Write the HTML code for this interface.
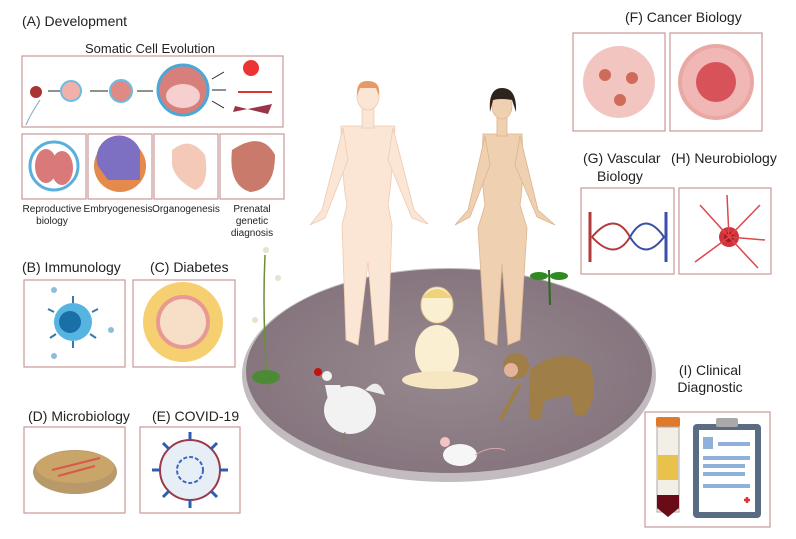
<!DOCTYPE html>
<html><head><meta charset="utf-8"><style>
html,body{margin:0;padding:0;background:#fff;}
svg{display:block;font-family:"Liberation Sans",sans-serif;}
</style></head><body>
<svg width="796" height="539" viewBox="0 0 796 539" xmlns="http://www.w3.org/2000/svg">
<defs>
<radialGradient id="dish" cx="50%" cy="50%" r="50%">
<stop offset="0" stop-color="#978990"/><stop offset="1" stop-color="#86757e"/></radialGradient>
</defs>
<g fill="none" stroke="#c99a9a" stroke-width="1.2">
<rect x="22" y="56" width="261" height="71"/>
<rect x="22" y="134" width="64" height="65"/>
<rect x="88" y="134" width="64" height="65"/>
<rect x="154" y="134" width="64" height="65"/>
<rect x="220" y="134" width="64" height="65"/>
<rect x="24" y="280" width="101" height="87"/>
<rect x="133" y="280" width="102" height="87"/>
<rect x="24" y="427" width="101" height="86"/>
<rect x="140" y="427" width="100" height="86"/>
<rect x="573" y="33" width="92" height="98"/>
<rect x="670" y="33" width="92" height="98"/>
<rect x="581" y="188" width="93" height="86"/>
<rect x="679" y="188" width="92" height="86"/>
<rect x="645" y="412" width="125" height="115"/>
</g>
<g font-size="14" fill="#222">
<text x="22" y="26">(A) Development</text>
<text x="22" y="272">(B) Immunology</text>
<text x="150" y="272">(C) Diabetes</text>
<text x="28" y="421">(D) Microbiology</text>
<text x="152" y="421">(E) COVID-19</text>
<text x="625" y="22">(F) Cancer Biology</text>
<text x="583" y="163">(G) Vascular</text>
<text x="597" y="181">Biology</text>
<text x="671" y="163">(H) Neurobiology</text>
<text x="710" y="375" text-anchor="middle">(I) Clinical</text>
<text x="710" y="392" text-anchor="middle">Diagnostic</text>
</g>
<text x="150" y="53" font-size="13" text-anchor="middle" fill="#222">Somatic Cell Evolution</text>
<g font-size="10" fill="#222" text-anchor="middle">
<text x="52" y="212">Reproductive</text><text x="52" y="224">biology</text>
<text x="118" y="212">Embryogenesis</text>
<text x="186" y="212">Organogenesis</text>
<text x="252" y="212">Prenatal</text><text x="252" y="224">genetic</text><text x="252" y="236">diagnosis</text>
</g>
<!-- A strip -->
<circle cx="36" cy="92" r="6" fill="#a33"/>
<path d="M40 100 Q30 115 26 125" stroke="#7ab" fill="none"/>
<circle cx="71" cy="91" r="10" fill="#f3b0aa" stroke="#6bbde0" stroke-width="2"/>
<circle cx="121" cy="91" r="11" fill="#e08a86" stroke="#6bbde0" stroke-width="2"/>
<circle cx="183" cy="90" r="25" fill="#d77f7a" stroke="#4aa8d8" stroke-width="3"/>
<ellipse cx="183" cy="96" rx="17" ry="12" fill="#f6d0cf"/>
<g stroke="#222" stroke-width="1"><line x1="48" y1="91" x2="60" y2="91"/><line x1="90" y1="91" x2="108" y2="91"/><line x1="137" y1="91" x2="153" y2="91"/><line x1="212" y1="79" x2="224" y2="72"/><line x1="212" y1="90" x2="226" y2="90"/><line x1="212" y1="101" x2="224" y2="108"/></g>
<circle cx="251" cy="68" r="8" fill="#e33"/>
<line x1="238" y1="92" x2="272" y2="92" stroke="#d33" stroke-width="2"/>
<path d="M233 112 L272 104 L268 114 L235 106Z" fill="#9a3448"/>
<!-- small A boxes -->
<circle cx="54" cy="166" r="24" fill="#fff" stroke="#5ab0dd" stroke-width="3"/>
<ellipse cx="46" cy="166" rx="11" ry="17" fill="#d9797a"/><ellipse cx="62" cy="168" rx="11" ry="17" fill="#d9797a"/>
<circle cx="120" cy="166" r="26" fill="#e38a4c"/><path d="M98 166 A22 22 0 0 1 140 150 L140 180 L108 180Z" fill="#7d6fc2"/>
<path d="M172 150 Q190 135 205 155 Q210 185 195 190 Q175 180 172 165Z" fill="#f4c9b8"/>
<path d="M232 150 Q262 130 275 155 Q275 190 250 192 Q228 185 232 150Z" fill="#c97a6b"/>
<!-- B -->
<circle cx="73" cy="322" r="19" fill="#55b4e0"/><circle cx="70" cy="322" r="11" fill="#1a6fa6"/>
<g stroke="#3b78a8" stroke-width="2"><line x1="73" y1="303" x2="73" y2="296"/><line x1="73" y1="341" x2="73" y2="348"/><line x1="54" y1="312" x2="48" y2="309"/><line x1="92" y1="312" x2="98" y2="309"/><line x1="56" y1="334" x2="50" y2="338"/><line x1="90" y1="334" x2="96" y2="338"/></g>
<g fill="#8fbcd8"><circle cx="54" cy="290" r="3"/><circle cx="111" cy="330" r="3"/><circle cx="54" cy="356" r="3"/></g>
<!-- C -->
<circle cx="183" cy="322" r="40" fill="#f5cf70"/><circle cx="183" cy="322" r="27" fill="#e79a92"/><circle cx="183" cy="322" r="23" fill="#f6dfc6"/>
<!-- D -->
<ellipse cx="75" cy="472" rx="42" ry="22" fill="#b89a6a"/><ellipse cx="75" cy="467" rx="39" ry="16" fill="#c9a56a"/>
<path d="M52 470 L100 458 M58 476 L95 466" stroke="#d8584a" stroke-width="2"/>
<!-- E -->
<circle cx="190" cy="470" r="30" fill="#e8eef6" stroke="#9a3a4a" stroke-width="2"/>
<g stroke="#2f5cb0" stroke-width="3"><line x1="190" y1="440" x2="190" y2="432"/><line x1="190" y1="500" x2="190" y2="508"/><line x1="160" y1="470" x2="152" y2="470"/><line x1="220" y1="470" x2="228" y2="470"/><line x1="169" y1="449" x2="163" y2="443"/><line x1="211" y1="449" x2="217" y2="443"/><line x1="169" y1="491" x2="163" y2="497"/><line x1="211" y1="491" x2="217" y2="497"/></g>
<circle cx="190" cy="470" r="13" fill="none" stroke="#3a6ac0" stroke-width="2" stroke-dasharray="4 2"/>
<!-- F -->
<circle cx="619" cy="82" r="36" fill="#f2c5c0"/><circle cx="605" cy="75" r="6" fill="#d06a5a"/><circle cx="632" cy="78" r="6" fill="#d06a5a"/><circle cx="620" cy="100" r="6" fill="#d06a5a"/>
<circle cx="716" cy="82" r="38" fill="#e9a8a4"/><circle cx="716" cy="82" r="34" fill="#f0b7b4"/><circle cx="716" cy="82" r="20" fill="#d8525a"/>
<!-- G -->
<path d="M590 212 L590 262" stroke="#b23a3a" stroke-width="3" fill="none"/>
<path d="M592 237 Q615 210 630 237 Q615 262 592 237" fill="none" stroke="#b23a3a" stroke-width="2"/>
<path d="M630 237 Q645 210 664 237 Q645 262 630 237" fill="none" stroke="#3a4fa8" stroke-width="2"/>
<path d="M666 212 L666 262" stroke="#3a4fa8" stroke-width="3"/>
<!-- H -->
<circle cx="729" cy="237" r="10" fill="#d0343a"/><circle cx="729" cy="237" r="5" fill="#a51a24"/><g stroke="#e0454a" stroke-width="1.5" fill="none"><path d="M729 237 L700 205 M729 237 L760 205 M729 237 L695 262 M729 237 L758 268 M729 237 L727 195 M729 237 L765 240"/></g>
<!-- I -->
<rect x="656" y="417" width="24" height="10" rx="2" fill="#e07a2a"/><rect x="657" y="427" width="22" height="85" fill="#f4efe6" stroke="#aaa"/><rect x="658" y="455" width="20" height="25" fill="#e8c24a"/><path d="M657 495 L679 495 L679 508 L668 517 L657 508Z" fill="#6a0b18"/>
<rect x="693" y="424" width="68" height="94" rx="4" fill="#5a6b84"/><rect x="699" y="430" width="56" height="82" fill="#fff"/><rect x="716" y="418" width="22" height="9" rx="2" fill="#a9a9a9"/>
<g stroke="#8fb0d8" stroke-width="4"><line x1="718" y1="444" x2="750" y2="444"/><line x1="703" y1="458" x2="750" y2="458"/><line x1="703" y1="466" x2="745" y2="466"/><line x1="703" y1="474" x2="745" y2="474"/><line x1="703" y1="486" x2="750" y2="486"/></g>
<rect x="703" y="437" width="10" height="12" fill="#8fb0d8"/>
<path d="M744 500 h6 M747 497 v6" stroke="#d33" stroke-width="2.5"/>
<!-- dish -->
<ellipse cx="449" cy="375" rx="207" ry="107" fill="#c2bcc0"/>
<ellipse cx="449" cy="371" rx="203" ry="102" fill="url(#dish)"/>
<!-- plant -->
<path d="M265 255 Q262 320 268 390" stroke="#6a8e3a" stroke-width="1.5" fill="none"/>
<g fill="#e8e2c8"><circle cx="266" cy="250" r="3"/><circle cx="278" cy="278" r="3"/><circle cx="255" cy="320" r="3"/></g>
<ellipse cx="266" cy="377" rx="14" ry="7" fill="#4d8a36"/>
<!-- humans -->
<g fill="#fbe6d5" stroke="#f0c9ae" stroke-width="0.8">
<path d="M341 126 L395 126 Q392 180 388 205 L392 225 L388 340 L375 345 L368 262 L358 345 L346 340 L342 225 L347 205 Q342 180 341 126Z"/>
<path d="M343 128 L322 210 L310 225 L325 218 L348 160Z"/><path d="M393 128 L414 210 L428 224 L412 218 L388 160Z"/>
<rect x="362" y="108" width="12" height="20"/>
<ellipse cx="368" cy="97" rx="11" ry="13"/>
</g>
<path d="M357 96 Q356 80 368 81 Q381 81 379 96 L376 88 L360 88Z" fill="#e89a66"/>
<g fill="#efd0b0" stroke="#dcb48f" stroke-width="0.8">
<path d="M483 134 L522 134 Q524 180 520 205 L527 228 L520 340 L508 345 L502 264 L497 345 L485 340 L478 228 L485 205 Q481 180 483 134Z"/>
<path d="M485 136 L468 210 L455 225 L470 217 L490 165Z"/><path d="M520 136 L538 210 L555 225 L537 217 L515 165Z"/>
<rect x="497" y="116" width="10" height="20"/>
<ellipse cx="502" cy="106" rx="10" ry="13"/>
</g>
<path d="M490 112 Q488 88 502 88 Q517 88 516 112 L512 100 Q500 98 493 100Z" fill="#2f231e"/>
<line x1="549" y1="270" x2="550" y2="305" stroke="#2a6a1a" stroke-width="2"/>
<ellipse cx="539" cy="276" rx="9" ry="4" fill="#2f8a22"/><ellipse cx="559" cy="276" rx="9" ry="4" fill="#2f8a22"/>
<!-- baby -->
<ellipse cx="437" cy="305" rx="16" ry="18" fill="#fbefd2" stroke="#e8c98a"/><path d="M422 298 Q437 280 452 298" fill="#f0d27a"/>
<ellipse cx="437" cy="352" rx="22" ry="27" fill="#fbefd2"/><ellipse cx="440" cy="380" rx="38" ry="9" fill="#f7e6c2"/>
<!-- monkey -->
<path d="M530 370 Q560 345 590 365 Q600 395 585 415 L575 415 L570 395 L545 400 L540 420 L530 420 Q528 395 530 370Z" fill="#a07e48"/>
<circle cx="516" cy="366" r="13" fill="#a07e48"/><circle cx="511" cy="370" r="7" fill="#e3b39c"/>
<path d="M520 385 L500 420" stroke="#a07e48" stroke-width="4"/>
<!-- chicken -->
<ellipse cx="350" cy="410" rx="26" ry="24" fill="#f2f2f2"/><path d="M325 385 L340 385 L345 400 L330 410Z" fill="#f2f2f2"/><ellipse cx="327" cy="376" rx="5" ry="5" fill="#f2f2f2"/><circle cx="318" cy="372" r="4" fill="#c2140e"/>
<path d="M365 390 Q378 375 385 395" fill="#ececec"/>
<line x1="345" y1="432" x2="342" y2="450" stroke="#8a7a5a"/>
<!-- mouse -->
<ellipse cx="460" cy="455" rx="17" ry="11" fill="#f6f6f6"/><circle cx="445" cy="442" r="5" fill="#f2c4c4"/><path d="M475 455 Q490 445 505 450" stroke="#d8a8a8" fill="none"/>
</svg>
</body></html>
